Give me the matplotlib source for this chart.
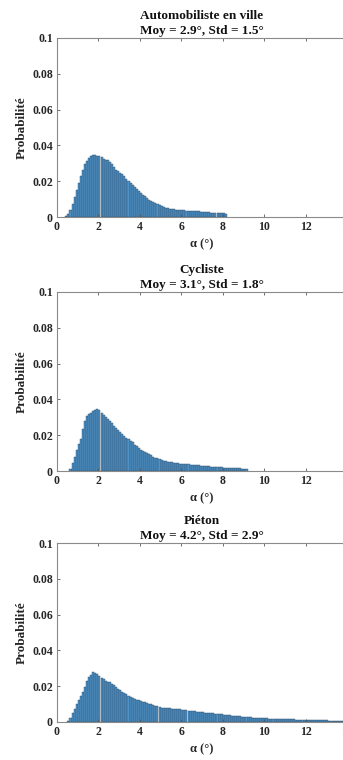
#!/usr/bin/env python3
"""
Angle distribution histograms (automobiliste / cycliste / pieton)
"""

import matplotlib
matplotlib.use('Agg')
import matplotlib.pyplot as plt
import numpy as np

# bin width of the histograms (deg)
bin_width = 0.1

titles = ['Automobiliste en ville\nMoy = 2.9°, Std = 1.5°',
          'Cycliste\nMoy = 3.1°, Std = 1.8°',
          'Piéton\nMoy = 4.2°, Std = 2.9°']

# first bin left edge for each panel
auto_start = 0.4
cycl_start = 0.6
piet_start = 0.5

auto_prob = [
    0.0005, 0.0015, 0.0040, 0.0075, 0.0110, 0.0150, 0.0190, 0.0230, 0.0265, 0.0295,
    0.0315, 0.0330, 0.0340, 0.0345, 0.0345, 0.0343, 0.0340, 0.0335, 0.0325, 0.0320,
    0.0318, 0.0310, 0.0295, 0.0280, 0.0265, 0.0255, 0.0248, 0.0238, 0.0228, 0.0215,
    0.0203, 0.0190, 0.0178, 0.0166, 0.0155, 0.0145, 0.0135, 0.0125, 0.0115, 0.0105,
    0.0097, 0.0090, 0.0083, 0.0077, 0.0071, 0.0066, 0.0060, 0.0056, 0.0052, 0.0049,
    0.0046, 0.0044, 0.0042, 0.0041, 0.0040, 0.0039, 0.0038, 0.0037, 0.0036, 0.0036,
    0.0035, 0.0034, 0.0033, 0.0032, 0.0031, 0.0030, 0.0029, 0.0028, 0.0027, 0.0026,
    0.0025, 0.0024, 0.0023, 0.0022, 0.0021, 0.0021, 0.0020, 0.0019,
]

cycl_prob = [
    0.0012, 0.0047, 0.0080, 0.0115, 0.0152, 0.0180, 0.0235, 0.0280, 0.0310, 0.0320,
    0.0325, 0.0333, 0.0342, 0.0348, 0.0340, 0.0325, 0.0312, 0.0302, 0.0293, 0.0282,
    0.0268, 0.0252, 0.0240, 0.0230, 0.0220, 0.0208, 0.0196, 0.0187, 0.0178, 0.0170,
    0.0160, 0.0148, 0.0138, 0.0128, 0.0120, 0.0113, 0.0106, 0.0100, 0.0094, 0.0087,
    0.0080, 0.0075, 0.0070, 0.0065, 0.0061, 0.0058, 0.0055, 0.0052, 0.0050, 0.0048,
    0.0046, 0.0044, 0.0043, 0.0041, 0.0040, 0.0039, 0.0038, 0.0037, 0.0036, 0.0035,
    0.0034, 0.0033, 0.0031, 0.0030, 0.0029, 0.0028, 0.0027, 0.0026, 0.0025, 0.0024,
    0.0023, 0.0022, 0.0021, 0.0020, 0.0019, 0.0018, 0.0017, 0.0017, 0.0016, 0.0015,
    0.0015, 0.0014, 0.0014, 0.0013, 0.0013, 0.0012,
]

piet_prob = [
    0.0008, 0.0025, 0.0050, 0.0075, 0.0100, 0.0125, 0.0145, 0.0165, 0.0195, 0.0228,
    0.0252, 0.0262, 0.0278, 0.0275, 0.0268, 0.0258, 0.0248, 0.0240, 0.0228, 0.0226,
    0.0222, 0.0215, 0.0207, 0.0196, 0.0186, 0.0178, 0.0170, 0.0162, 0.0155, 0.0148,
    0.0142, 0.0136, 0.0130, 0.0125, 0.0121, 0.0117, 0.0114, 0.0110, 0.0106, 0.0102,
    0.0099, 0.0095, 0.0092, 0.0088, 0.0084, 0.0081, 0.0079, 0.0078, 0.0077, 0.0076,
    0.0075, 0.0074, 0.0072, 0.0071, 0.0070, 0.0069, 0.0067, 0.0066, 0.0064, 0.0063,
    0.0061, 0.0060, 0.0058, 0.0057, 0.0055, 0.0054, 0.0053, 0.0052, 0.0050, 0.0049,
    0.0048, 0.0047, 0.0046, 0.0044, 0.0043, 0.0041, 0.0040, 0.0038, 0.0037, 0.0036,
    0.0035, 0.0034, 0.0032, 0.0031, 0.0030, 0.0029, 0.0028, 0.0027, 0.0026, 0.0025,
    0.0025, 0.0024, 0.0023, 0.0022, 0.0022, 0.0021, 0.0020, 0.0019, 0.0019, 0.0018,
    0.0018, 0.0017, 0.0017, 0.0016, 0.0016, 0.0015, 0.0015, 0.0014, 0.0014, 0.0014,
    0.0013, 0.0013, 0.0013, 0.0012, 0.0012, 0.0012, 0.0011, 0.0011, 0.0011, 0.0010,
    0.0010, 0.0010, 0.0009, 0.0009, 0.0009, 0.0009, 0.0008, 0.0008, 0.0008, 0.0008,
    0.0008, 0.0007, 0.0007, 0.0007, 0.0007,
]

x_ticks = [0, 2, 4, 6, 8, 10, 12, 14]
y_ticks = [0, 0.02, 0.04, 0.06, 0.08, 0.1]
y_tick_labels = ['0', '0.02', '0.04', '0.06', '0.08', '0.1']


def main():
    plt.rcParams['font.family'] = ['Liberation Serif', 'DejaVu Serif']
    plt.rcParams['font.weight'] = 'bold'

    fig = plt.figure(figsize=(3.43, 7.6), dpi=100)

    # axes boxes in pixels (left, top, right, bottom) -- right edge runs past the crop
    boxes = [(57, 38, 347, 217), (57, 292, 347, 471), (57, 543, 347, 722)]
    starts = [auto_start, cycl_start, piet_start]
    probs = [auto_prob, cycl_prob, piet_prob]

    for (l, t, r, b), title, start, prob in zip(boxes, titles, starts, probs):
        ax = fig.add_axes([l / 343, (760 - b) / 760, (r - l) / 343, (b - t) / 760])
        edges = start + bin_width * np.arange(len(prob))
        ax.bar(edges, prob, width=bin_width, align='edge',
               color='#4f93c6', edgecolor='#2b4a66', linewidth=0.3)

        ax.set_xlim(0, 14)
        ax.set_ylim(0, 0.1)
        ax.set_xticks(x_ticks)
        ax.set_yticks(y_ticks)
        ax.set_yticklabels(y_tick_labels)

        ax.tick_params(direction='in', length=2.5, width=0.6, color='#555555',
                       labelsize=8.5, labelcolor='#262626', top=True, right=True, pad=3)
        for s in ax.spines.values():
            s.set_color('#8a8a8a')
            s.set_linewidth(0.8)

        ax.set_title(title, fontsize=9.5, fontweight='bold', color='#111111',
                     pad=3, linespacing=1.3)
        ax.set_ylabel('Probabilité', fontsize=9.5, fontweight='bold',
                      color='#262626', labelpad=3)
        ax.set_xlabel('α (°)', fontsize=9, fontweight='bold',
                      color='#262626', labelpad=4)

    fig.savefig('out.png', dpi=100)


if __name__ == "__main__":
    main()
